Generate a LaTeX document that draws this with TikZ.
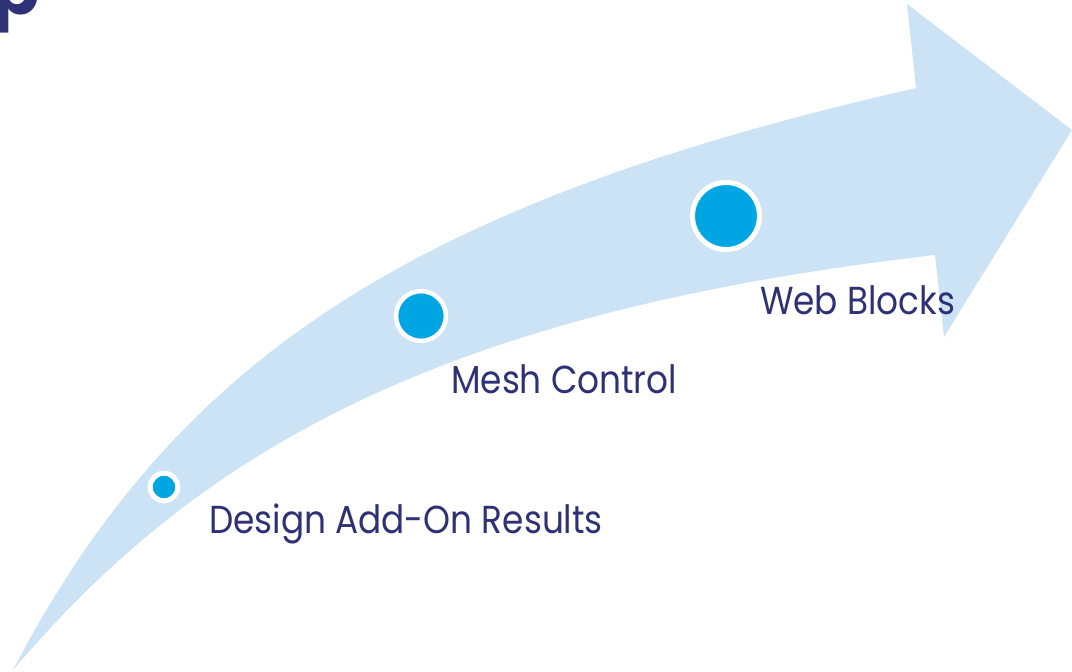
\documentclass[tikz,border=0pt]{standalone}
\usepackage{fontspec}
\setmainfont{Poppins}
\newfontfamily\labelfont[FakeStretch=0.88]{Poppins}
\definecolor{arrowblue}{HTML}{CCE2F5}
\definecolor{dotblue}{HTML}{00A6E3}
\definecolor{navy}{HTML}{2E3176}
\tikzset{
  dot/.style={circle, fill=dotblue, draw=white, inner sep=0pt},
  label/.style={anchor=base west, text=navy, font=\labelfont\fontsize{39}{44}\selectfont, inner sep=0pt},
}
\begin{document}
\begin{tikzpicture}[x=1pt,y=-1pt]
\useasboundingbox (0,0) rectangle (1072,672);
\clip (0,0) rectangle (1072,672);
\fill[arrowblue] (13,670)
  .. controls (175,360) and (410,203) .. (916,88)
  -- (907,4) -- (1072,130) -- (944,337) -- (935,255)
  .. controls (440,312) and (200,450) .. (13,670)
  -- cycle;
\node[dot, minimum size=27.6pt, line width=5pt] (d1) at (164,487) {};
\node[dot, minimum size=49.8pt, line width=4.5pt] (d2) at (421,316) {};
\node[dot, minimum size=67pt, line width=5pt] (d3) at (726,216) {};
\node[label] (t1) at (209,533) {Design Add-On Results};
\node[label] (t2) at (451,393) {Mesh Control};
\node[label] (t3) at (760,314) {Web Blocks};
\node[anchor=base west, text=navy, inner sep=0pt, font=\fontsize{70}{80}\selectfont\bfseries] (title) at (-8,14) {p};
\end{tikzpicture}
\end{document}
